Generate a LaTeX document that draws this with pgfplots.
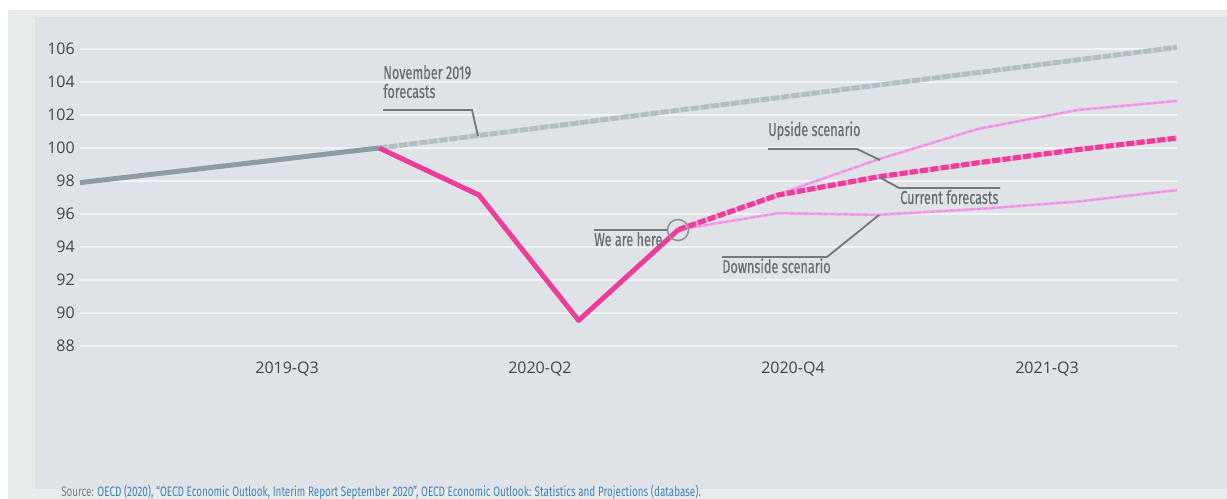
\documentclass[border=0pt]{standalone}
\usepackage{fontspec}
\setmainfont{Open Sans}
\newfontfamily\condfont[FakeStretch=0.68,FakeBold=0.4]{Fira Sans}
\newfontfamily\srcfont[FakeStretch=0.72]{Fira Sans}
\usepackage{pgfplots}
\usepackage{pgfplotstable}
\pgfplotsset{compat=1.18}
\definecolor{outerbg}{HTML}{E8EBEB}
\definecolor{panelbg}{HTML}{DFE3E8}
\definecolor{histgrey}{HTML}{8D9CA2}
\definecolor{novbase}{HTML}{CBD3D6}
\definecolor{novdash}{HTML}{B2BEC1}
\definecolor{hotpink}{HTML}{EE3C98}
\definecolor{pinkbase}{HTML}{F6A9D9}
\definecolor{lightpink}{HTML}{F5A6EC}
\definecolor{lightpinkdash}{HTML}{F08EE0}
\definecolor{ticktext}{HTML}{444649}
\definecolor{annotext}{HTML}{696D71}
\definecolor{annoline}{HTML}{75797C}
\definecolor{srcgrey}{HTML}{7A7E82}
\definecolor{srcblue}{HTML}{3F7FBF}

\pgfplotstableread{
x y
0 97.9
1 98.6
2 99.3
3 100.0
}\histgrey
\pgfplotstableread{
x y
3 100.0
4 100.76
5 101.52
6 102.29
7 103.05
8 103.81
9 104.57
10 105.34
11 106.1
}\novforecast
\pgfplotstableread{
x y
3 100.0
4 97.15
5 89.55
6 95.05
}\histpink
\pgfplotstableread{
x y
6 95.05
7 97.15
8 98.25
9 99.1
10 99.9
11 100.6
}\current
\pgfplotstableread{
x y
6 95.05
7 97.2
8 99.3
9 101.15
10 102.3
11 102.85
}\upside
\pgfplotstableread{
x y
6 95.05
7 96.05
8 95.95
9 96.3
10 96.75
11 97.45
}\downside

\begin{document}
\begin{tikzpicture}
\useasboundingbox (0,0) rectangle (920.25pt,374.25pt);
\clip (0,0) rectangle (920.25pt,374.25pt);
\fill[white] (0,0) rectangle (920.25pt,374.25pt);
\begin{scope}[x=0.75pt,y=-0.75pt,shift={(0pt,374.25pt)}]
\fill[outerbg] (8,10) rectangle (1227,499);
\fill[panelbg] (35,17) rectangle (1227,489);
\end{scope}

\begin{axis}[
  at={(60pt,114.75pt)}, anchor=south west,
  scale only axis, width=822.75pt, height=228.9375pt,
  xmin=0, xmax=11, ymin=88, ymax=106.5,
  axis line style={draw=none}, tick style={draw=none},
  ytick={88,90,...,106},
  ymajorgrids, major grid style={white!55!panelbg, line width=0.8pt},
  xtick={2.076,4.612,7.149,9.696},
  xticklabels={2019-Q3,2020-Q2,2020-Q4,2021-Q3},
  tick label style={font=\fontsize{12}{14}\selectfont, text=ticktext},
  /pgf/number format/assume math mode=true,
  yticklabel style={anchor=east, inner sep=0pt, xshift=-3.75pt},
  xticklabel style={anchor=north, inner sep=0pt, yshift=-12pt},
  clip=false,
]
\addplot[novbase, line width=3.6pt] table {\novforecast};
\addplot[novdash, line width=3.6pt, dash pattern=on 6pt off 1.6pt] table {\novforecast};
\addplot[histgrey, line width=3.75pt] table {\histgrey};
\addplot[lightpink, line width=2.1pt, line join=round] table {\upside};
\addplot[lightpinkdash, line width=1pt, dash pattern=on 3pt off 2pt] table {\upside};
\addplot[lightpink, line width=2.1pt, line join=round] table {\downside};
\addplot[lightpinkdash, line width=1pt, dash pattern=on 3pt off 2pt] table {\downside};
\addplot[pinkbase, line width=3.8pt] table {\current};
\addplot[hotpink, line width=3.8pt, dash pattern=on 6pt off 1.8pt] table {\current};
\addplot[hotpink, line width=3.7pt, line join=round] table {\histpink};
\end{axis}

\begin{scope}[x=0.75pt,y=-0.75pt,shift={(0pt,374.25pt)}]
\tikzset{anno/.style={annoline, line width=1.4pt}, lab/.style={anchor=base west, inner sep=0pt, text=annotext, font=\condfont\fontsize{14}{16}\selectfont}}
\draw[anno] (383,110) -- (472,110) -- (478,136);
\node[lab] at (383,79) {November 2019};
\node[lab] at (383,98) {forecasts};
\draw[anno] (768,149) -- (857,149) -- (880,160);
\node[lab] at (768,136) {Upside scenario};
\draw[anno] (879,177) -- (899,188) -- (1000,188);
\node[lab] at (900,204) {Current forecasts};
\draw[anno] (722,257) -- (827,257) -- (879,215);
\node[lab] at (722,273) {Downside scenario};
\draw[anno] (594,230) -- (668,230);
\node[lab] at (594,246) {We are here};
\draw[annoline!80, line width=1.2pt] (678,230) circle (10.5);
\node[anchor=base west, inner sep=0pt, font=\srcfont\fontsize{10.3}{11}\selectfont] at (61,497) {\textcolor{srcgrey}{Source:} \textcolor{srcblue}{OECD (2020), “OECD Economic Outlook, Interim Report September 2020”, OECD Economic Outlook: Statistics and Projections (database).}};
\end{scope}
\end{tikzpicture}
\end{document}
